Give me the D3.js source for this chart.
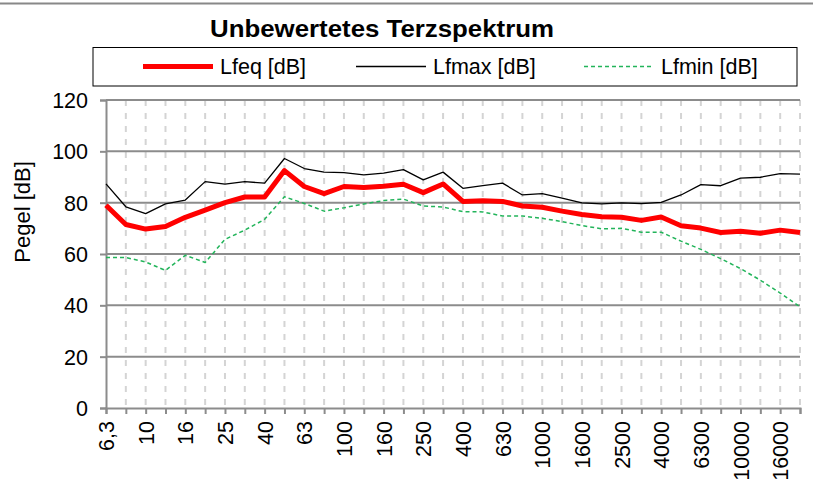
<!DOCTYPE html>
<html>
<head>
<meta charset="utf-8">
<script src="https://cdn.jsdelivr.net/npm/d3@7"></script>
<style>
  body { margin: 0; background: #fff; }
  text { font-family: Arial, "Liberation Sans", sans-serif; fill: #000; }
</style>
</head>
<body>
<script>
var w = 813;
var h = 495;

// third-octave band labels
var bands = ["6,3", "8", "10", "12,5", "16", "20", "25", "31,5", "40", "50",
             "63", "80", "100", "125", "160", "200", "250", "315", "400", "500",
             "630", "800", "1000", "1250", "1600", "2000", "2500", "3150", "4000", "5000",
             "6300", "8000", "10000", "12500", "16000", "20000"];

var lfeq = [79.0, 71.5, 69.7, 70.7, 74.3, 77.1, 80.0, 82.2, 82.2, 92.5,
            86.3, 83.5, 86.3, 85.9, 86.4, 87.2, 83.9, 87.3, 80.5, 80.7,
            80.5, 78.7, 78.2, 76.7, 75.4, 74.5, 74.3, 73.1, 74.4, 71.0,
            70.1, 68.4, 68.9, 68.1, 69.3, 68.4];

var lfmax = [87.3, 78.4, 75.7, 79.5, 81.0, 88.2, 87.2, 88.2, 87.6, 97.2,
             93.3, 91.9, 91.7, 90.8, 91.5, 92.9, 88.9, 91.9, 85.6, 86.6,
             87.6, 83.0, 83.5, 81.8, 79.9, 79.5, 79.9, 79.6, 80.1, 83.0,
             87.0, 86.6, 89.6, 89.9, 91.3, 91.1];

var lfmin = [58.6, 58.6, 56.9, 53.6, 59.5, 56.7, 65.7, 69.3, 73.5, 82.3,
             79.7, 76.7, 78.0, 79.5, 80.8, 81.4, 78.7, 78.3, 76.5, 76.4,
             74.8, 74.8, 73.9, 72.6, 71.1, 69.8, 70.0, 68.5, 68.5, 65.0,
             61.8, 58.2, 54.3, 49.8, 44.8, 39.4];

var yTicks = [0, 20, 40, 60, 80, 100, 120];

var series = [
  { name: "Lfeq [dB]", values: lfeq, color: "#ff0000", width: 5, dash: null, lx: 143 },
  { name: "Lfmax [dB]", values: lfmax, color: "#000000", width: 1.3, dash: null, lx: 356 },
  { name: "Lfmin [dB]", values: lfmin, color: "#22b45a", width: 1.5, dash: "4,3", lx: 584 }
];

// plot area edges (window.top is taken, so no plain "top")
var pLeft = 106, pRight = 800, pTop = 100, pBottom = 408;
var fs = "21.5px";

var svg = d3.select("body").append("svg")
            .attr("width", w)
            .attr("height", h);

var x = d3.scalePoint().domain(bands).range([pLeft, pRight]);
var y = d3.scaleLinear().domain([0, 120]).range([pBottom, pTop]);

// top border line
svg.append("line")
   .attr("x1", 0).attr("x2", w)
   .attr("y1", 3.5).attr("y2", 3.5)
   .attr("stroke", "#888").attr("stroke-width", 2);

// vertical dashed grid
svg.append("g").selectAll("line")
   .data(bands.slice(1))
   .enter().append("line")
   .attr("x1", function(d) { return x(d); })
   .attr("x2", function(d) { return x(d); })
   .attr("y1", pTop).attr("y2", pBottom)
   .attr("stroke", "#d4d4d4")
   .attr("stroke-width", 2)
   .attr("stroke-dasharray", "6,7");

// horizontal grid
svg.append("g").selectAll("line")
   .data(yTicks.slice(1))
   .enter().append("line")
   .attr("x1", pLeft).attr("x2", pRight)
   .attr("y1", function(d) { return y(d); })
   .attr("y2", function(d) { return y(d); })
   .attr("stroke", "#8c8c8c")
   .attr("stroke-width", 2);

// y axis
var yAxis = svg.append("g")
   .attr("transform", "translate(" + pLeft + ",0)")
   .call(d3.axisLeft(y).tickValues(yTicks).tickSize(6).tickPadding(12));
yAxis.selectAll("text").style("font-size", fs).attr("dy", "0.35em");

// x axis
var xAxis = svg.append("g")
   .attr("transform", "translate(0," + pBottom + ")")
   .call(d3.axisBottom(x).tickValues(bands).tickSize(6)
         .tickFormat(function(d, i) { return i % 2 === 0 ? d : ""; }));
xAxis.selectAll("text")
   .style("font-size", fs)
   .attr("text-anchor", "end")
   .attr("transform", "rotate(-90)")
   .attr("x", -13)
   .attr("y", 0)
   .attr("dy", "0.35em");

svg.selectAll(".domain").attr("stroke", "#8c8c8c").attr("stroke-width", 2);
svg.selectAll(".tick line").attr("stroke", "#8c8c8c").attr("stroke-width", 2);

// lines
var line = d3.line()
   .x(function(d, i) { return x(bands[i]); })
   .y(function(d) { return y(d); });

series.slice().reverse().forEach(function(s) {
  svg.append("path")
     .datum(s.values)
     .attr("d", line)
     .attr("fill", "none")
     .attr("stroke", s.color)
     .attr("stroke-width", s.width)
     .attr("stroke-linejoin", "round")
     .attr("stroke-dasharray", s.dash);
});

// title
svg.append("text")
   .attr("x", 210).attr("y", 37)
   .attr("textLength", 344)
   .attr("lengthAdjust", "spacingAndGlyphs")
   .style("font-size", "23px")
   .style("font-weight", "bold")
   .text("Unbewertetes Terzspektrum");

// legend
svg.append("rect")
   .attr("x", 93).attr("y", 47.5)
   .attr("width", 704).attr("height", 38.5)
   .attr("fill", "none")
   .attr("stroke", "#000")
   .attr("stroke-width", 1);

series.forEach(function(s) {
  svg.append("line")
     .attr("x1", s.lx).attr("x2", s.lx + 70)
     .attr("y1", 66.5).attr("y2", 66.5)
     .attr("stroke", s.color)
     .attr("stroke-width", s.width)
     .attr("stroke-dasharray", s.dash);
  svg.append("text")
     .attr("x", s.lx + 77).attr("y", 74)
     .style("font-size", fs)
     .text(s.name);
});

// y axis title
svg.append("text")
   .attr("transform", "translate(30,212) rotate(-90)")
   .attr("text-anchor", "middle")
   .style("font-size", "22px")
   .text("Pegel [dB]");
</script>
</body>
</html>
